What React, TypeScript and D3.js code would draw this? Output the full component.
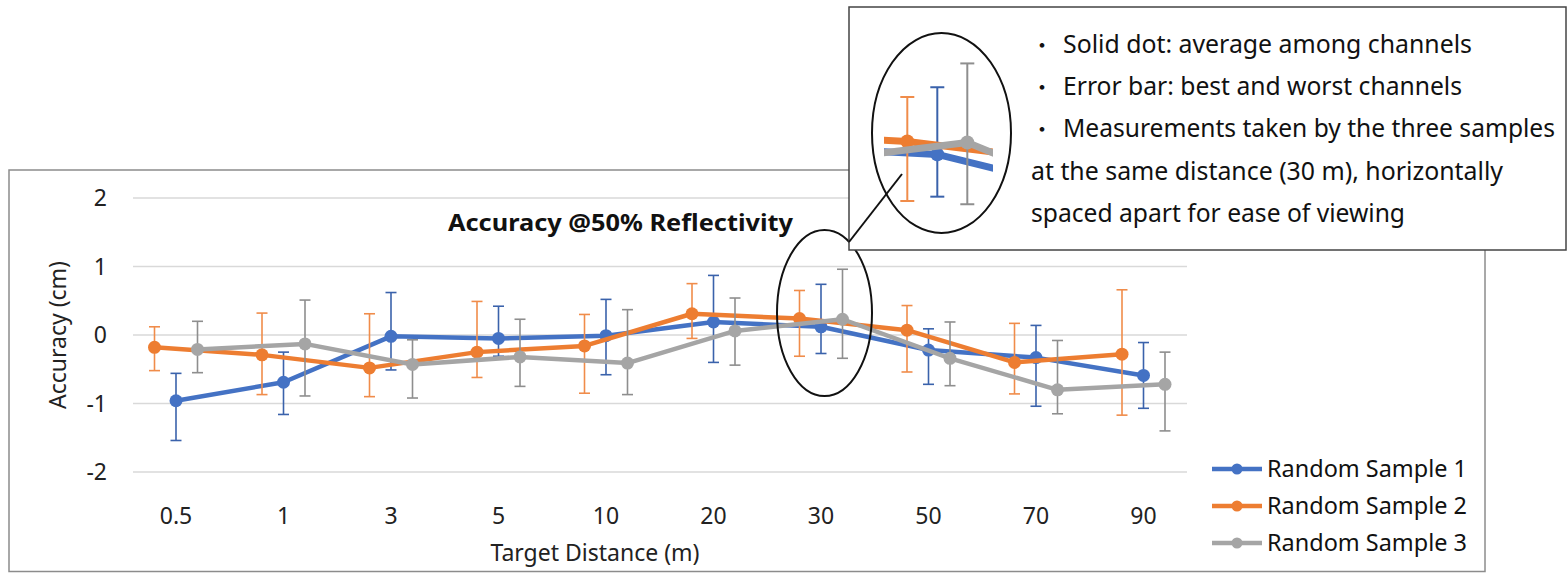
import React from 'react';
import * as d3 from 'd3';

const categories = ['0.5', '1', '3', '5', '10', '20', '30', '50', '70', '90'];
const yTicks = [-2, -1, 0, 1, 2];

const sample1Avg = [-0.96, -0.69, -0.02, -0.05, -0.01, 0.19, 0.12, -0.22, -0.33, -0.59];
const sample1Max = [-0.56, -0.25, 0.62, 0.42, 0.52, 0.87, 0.74, 0.09, 0.14, -0.11];
const sample1Min = [-1.54, -1.16, -0.51, -0.31, -0.58, -0.4, -0.27, -0.72, -1.04, -1.07];

const sample2Avg = [-0.18, -0.29, -0.48, -0.25, -0.16, 0.31, 0.24, 0.07, -0.4, -0.28];
const sample2Max = [0.12, 0.32, 0.31, 0.49, 0.3, 0.75, 0.65, 0.43, 0.17, 0.66];
const sample2Min = [-0.52, -0.87, -0.9, -0.62, -0.85, -0.05, -0.31, -0.54, -0.86, -1.17];

const sample3Avg = [-0.21, -0.13, -0.43, -0.32, -0.41, 0.06, 0.23, -0.34, -0.8, -0.72];
const sample3Max = [0.2, 0.51, -0.07, 0.23, 0.37, 0.54, 0.96, 0.19, -0.08, -0.25];
const sample3Min = [-0.55, -0.89, -0.92, -0.75, -0.87, -0.44, -0.34, -0.74, -1.15, -1.4];

const seriesNames = ['Random Sample 1', 'Random Sample 2', 'Random Sample 3'];

const noteLines = [
  'Solid dot: average among channels',
  'Error bar: best and worst channels',
  'Measurements taken by the three samples',
  'at the same distance (30 m), horizontally',
  'spaced apart for ease of viewing',
];

const FONT = "'Noto Sans', 'Open Sans', sans-serif";

interface Series {
  name: string;
  avg: number[];
  max: number[];
  min: number[];
  color: string;
  barColor: string;
  offset: number;
}

const series: Series[] = [
  { name: seriesNames[0], avg: sample1Avg, max: sample1Max, min: sample1Min, color: '#4472c4', barColor: '#3a62ab', offset: 0 },
  { name: seriesNames[1], avg: sample2Avg, max: sample2Max, min: sample2Min, color: '#ed7d31', barColor: '#f08c4a', offset: -21.5 },
  { name: seriesNames[2], avg: sample3Avg, max: sample3Max, min: sample3Min, color: '#a5a5a5', barColor: '#8e8e8e', offset: 21.5 },
];

const x = d3.scalePoint<string>().domain(categories).range([176, 1143.5]);
const y = d3.scaleLinear().domain([-2, 2]).range([472, 198]);

// zoomed-in view of the 30 m cluster, shown inside the note box
const insetX = d3.scaleLinear().domain([800, 843]).range([908, 968]);
const insetY = d3.scaleLinear().domain([y(0.65), y(-0.31)]).range([97, 201]);

interface MarkProps {
  s: Series;
  px: (i: number) => number;
  py: (v: number) => number;
  lineW: number;
  dotR: number;
  barW: number;
  capW: number;
}

const SeriesMarks: React.FC<MarkProps> = ({ s, px, py, lineW, dotR, barW, capW }) => {
  const pts: [number, number][] = s.avg.map((v, i) => [px(i), py(v)]);
  const path = d3.line()(pts) ?? '';
  return (
    <g>
      {s.avg.map((_, i) => (
        <g key={i} stroke={s.barColor} strokeWidth={barW}>
          <line x1={px(i)} x2={px(i)} y1={py(s.max[i])} y2={py(s.min[i])} />
          <line x1={px(i) - capW / 2} x2={px(i) + capW / 2} y1={py(s.max[i])} y2={py(s.max[i])} />
          <line x1={px(i) - capW / 2} x2={px(i) + capW / 2} y1={py(s.min[i])} y2={py(s.min[i])} />
        </g>
      ))}
      <path d={path} fill="none" stroke={s.color} strokeWidth={lineW} strokeLinejoin="round" />
      {pts.map(([cx, cy], i) => (
        <circle key={i} cx={cx} cy={cy} r={dotR} fill={s.color} />
      ))}
    </g>
  );
};

export default function App() {
  const ellipse = { cx: 824.5, cy: 313, rx: 47.5, ry: 83 };
  const noteX = [1063, 1063, 1063, 1031, 1031];
  const noteY = [53, 95, 137, 180, 222];
  const noteW = [409, 399, 492, 472, 374];

  return (
    <svg
      width={1567}
      height={573}
      style={{ position: 'absolute', left: 0, top: 0, background: '#fff' }}
      fontFamily={FONT}
    >
      <defs>
        <clipPath id="insetClip">
          <rect x={884} y={58} width={109} height={152} />
        </clipPath>
      </defs>

      {/* chart frame */}
      <rect x={9} y={170} width={1476} height={401.5} fill="#fff" stroke="#8c8c8c" strokeWidth={1.5} />

      {/* gridlines */}
      {yTicks.map((t) => (
        <line key={t} x1={133} x2={1187} y1={y(t)} y2={y(t)} stroke="#d9d9d9" strokeWidth={1.5} />
      ))}

      {/* y tick labels */}
      {yTicks.map((t) => (
        <text key={t} x={107} y={y(t) + 8} textAnchor="end" fontSize={23} fill="#222">
          {t}
        </text>
      ))}
      <text transform="translate(66,335) rotate(-90)" textAnchor="middle" fontSize={23} fill="#222">
        Accuracy (cm)
      </text>

      {/* x tick labels */}
      {categories.map((c) => (
        <text key={c} x={x(c)} y={524} textAnchor="middle" fontSize={23} fill="#222">
          {c}
        </text>
      ))}
      <text x={595} y={561} textAnchor="middle" fontSize={23} fill="#222">
        Target Distance (m)
      </text>

      <text x={448} y={231} fontSize={24} fontWeight="bold" fill="#111" textLength={345} lengthAdjust="spacingAndGlyphs">
        Accuracy @50% Reflectivity
      </text>

      {series.map((s) => (
        <SeriesMarks
          key={s.name}
          s={s}
          px={(i) => (x(categories[i]) ?? 0) + s.offset}
          py={(v) => y(v)}
          lineW={4.5}
          dotR={6.5}
          barW={1.6}
          capW={11}
        />
      ))}

      {/* legend */}
      {series.map((s, i) => (
        <g key={s.name} transform={`translate(0,${469 + i * 37})`}>
          <line x1={1212} x2={1262} y1={0} y2={0} stroke={s.color} strokeWidth={4.5} />
          <circle cx={1237} cy={0} r={5.5} fill={s.color} />
          <text x={1267} y={8} fontSize={24} fill="#111" textLength={200} lengthAdjust="spacingAndGlyphs">
            {s.name}
          </text>
        </g>
      ))}

      {/* highlight ellipse around 30 m */}
      <ellipse {...ellipse} fill="none" stroke="#111" strokeWidth={2} />

      {/* note box */}
      <rect x={849} y={7} width={717} height={243} fill="#fff" stroke="#444" strokeWidth={1.5} />
      <g clipPath="url(#insetClip)">
        {series.map((s) => (
          <SeriesMarks
            key={s.name}
            s={s}
            px={(i) => insetX((x(categories[i]) ?? 0) + s.offset)}
            py={(v) => insetY(y(v))}
            lineW={7}
            dotR={7}
            barW={2}
            capW={14}
          />
        ))}
      </g>
      <ellipse cx={941.5} cy={133} rx={69.5} ry={100} fill="none" stroke="#111" strokeWidth={2} />
      <line x1={902} y1={174} x2={849} y2={242} stroke="#111" strokeWidth={2} />

      {noteLines.map((l, i) => (
        <g key={i}>
          {i < 3 && (
            <text x={1042} y={noteY[i]} textAnchor="middle" fontSize={22} fill="#111" fontFamily="'Noto Sans CJK JP', sans-serif">
              ・
            </text>
          )}
          <text x={noteX[i]} y={noteY[i]} fontSize={26} fill="#111" textLength={noteW[i]} lengthAdjust="spacingAndGlyphs">
            {l}
          </text>
        </g>
      ))}
    </svg>
  );
}
